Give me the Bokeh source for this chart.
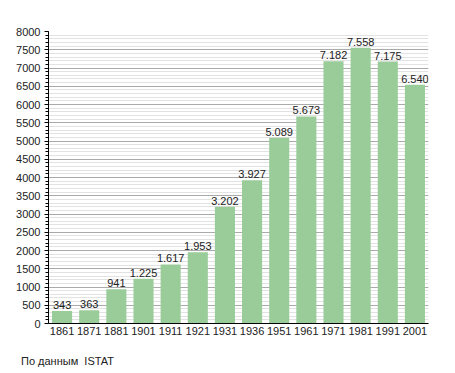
from bokeh.plotting import figure
from bokeh.models import ColumnDataSource, FactorRange, Range1d, FixedTicker, Div
from bokeh.layouts import column
from bokeh.core.properties import value
from bokeh.embed import file_html
from bokeh.resources import INLINE

years = ["1861", "1871", "1881", "1901", "1911", "1921", "1931", "1936",
         "1951", "1961", "1971", "1981", "1991", "2001"]
population = [343, 363, 941, 1225, 1617, 1953, 3202, 3927,
              5089, 5673, 7182, 7558, 7175, 6540]
labels = ["343", "363", "941", "1.225", "1.617", "1.953", "3.202", "3.927",
          "5.089", "5.673", "7.182", "7.558", "7.175", "6.540"]
y_ticks = list(range(0, 8001, 500))
y_minor = list(range(0, 8001, 100))
source_note = "По данным  ISTAT"

src = ColumnDataSource(dict(x=years, y=population, lab=labels))

p = figure(width=448, height=345, x_range=FactorRange(*years, range_padding=0),
           y_range=Range1d(0, 8000), output_backend="svg", toolbar_location=None,
           min_border_left=48, min_border_right=20, min_border_top=31,
           min_border_bottom=22)
p.outline_line_color = None

p.vbar(x="x", top="y", width=0.74, source=src, color="#99CC99", line_color=None)
p.text(x="x", y="y", text="lab", source=src, text_align="center",
       text_baseline="bottom", y_offset=-2, text_font_size="11px",
       text_color="#222222", text_font=value("Liberation Sans"))

p.yaxis.ticker = FixedTicker(ticks=y_ticks, minor_ticks=y_minor)
p.yaxis.major_label_text_font_size = "11px"
p.yaxis.major_label_text_font = "Liberation Sans"
p.yaxis.major_label_text_color = "#222222"
p.yaxis.major_tick_in = 0
p.yaxis.major_tick_out = 4
p.yaxis.minor_tick_in = 0
p.yaxis.minor_tick_out = 3
p.yaxis.axis_line_color = "black"
p.yaxis.major_tick_line_color = "black"
p.yaxis.minor_tick_line_color = "black"
p.yaxis.major_label_standoff = 4

p.xaxis.major_tick_line_color = None
p.xaxis.minor_tick_line_color = None
p.xaxis.major_tick_out = 0
p.xaxis.major_tick_in = 0
p.xaxis.axis_line_color = "black"
p.xaxis.major_label_text_font_size = "11px"
p.xaxis.major_label_text_font = "Liberation Sans"
p.xaxis.major_label_text_color = "#222222"
p.xaxis.major_label_standoff = 3

p.xgrid.grid_line_color = None
p.ygrid.grid_line_color = "#aaaaaa"
p.ygrid.minor_grid_line_color = "#e2e2e2"

note = Div(text=source_note, width=200, height=18, margin=(10, 0, 0, 21),
           styles={"font-size": "11px", "font-family": "Liberation Sans",
                   "color": "#222222", "white-space": "pre", "line-height": "13px"})

layout = column(p, note, spacing=0)

open("out.html", "w").write(file_html(layout, INLINE))
